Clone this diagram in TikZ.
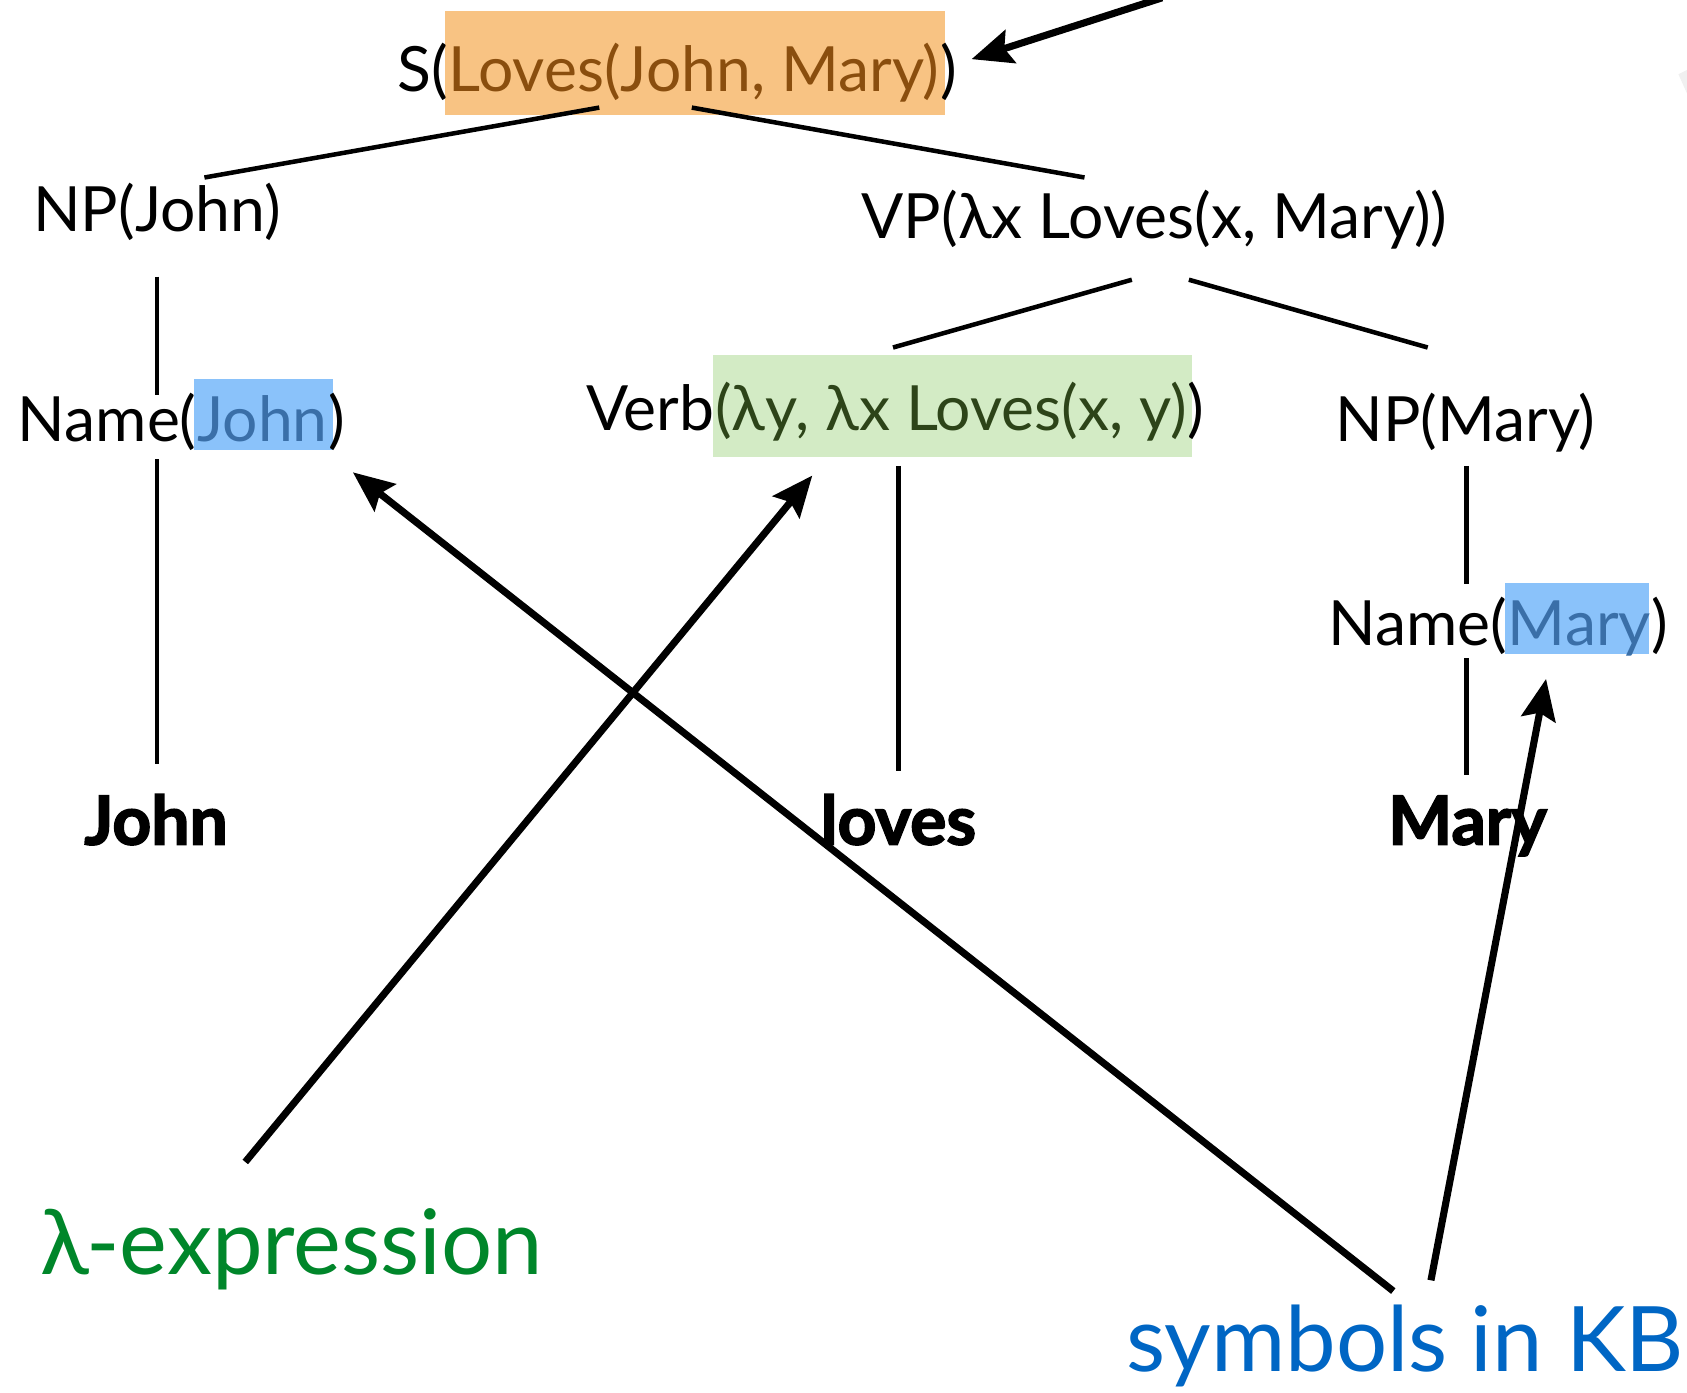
\documentclass[tikz,border=0pt]{standalone}
\usepackage{fontspec}
\setmainfont{Lato}
\newfontfamily\leaffont{Lato}[BoldFeatures={FakeBold=2.4}]
\usetikzlibrary{arrows.meta,calc,backgrounds}

\definecolor{hlorange}{HTML}{F8C383}
\definecolor{txtbrown}{HTML}{8A4E0E}
\definecolor{hlblue}{HTML}{8AC2FA}
\definecolor{txtblue}{HTML}{3A6FA8}
\definecolor{hlgreen}{HTML}{D3EBC5}
\definecolor{txtgreen}{HTML}{2D4419}
\definecolor{lamgreen}{HTML}{00862A}
\definecolor{kbblue}{HTML}{0066C4}

\tikzset{
  word/.style={inner sep=0pt, anchor=base, font=\fontsize{29}{34}\selectfont},
  leaf/.style={inner sep=0pt, anchor=base, font=\leaffont\fontsize{31.5}{36}\selectfont\bfseries},
  note/.style={inner sep=0pt, anchor=base, font=\fontsize{42}{48}\selectfont},
  branch/.style={line width=2.1pt},
  pointer/.style={line width=3.3pt, -{Stealth[length=19pt,width=16pt,inset=3pt]}}
}

\begin{document}
\begin{tikzpicture}[x=0.5pt,y=-0.5pt]
\useasboundingbox (0,0) rectangle (1568,1294);

% S(Loves(John, Mary))
\node[word, text=txtbrown] (s2) at (645,85) {Loves(John, Mary)};
\node[word, anchor=base east] (s1) at (s2.base west) {S(};
\node[word, anchor=base west] (s3) at (s2.base east) {)};

% second row
\node[word] (npj) at (146,215) {NP(John)};
\node[word] (vp) at (1073,222) {VP(λx Loves(x, Mary))};

% Name(John)
\node[word, text=txtblue] (nj2) at (244,410) {John};
\node[word, anchor=base east] (nj1) at (nj2.base west) {Name(};
\node[word, anchor=base west] (nj3) at (nj2.base east) {)};

% Verb(...)
\node[word, text=txtgreen] (v2) at (884,400) {(λy, λx Loves(x, y)};
\node[word, anchor=base east] (v1) at (v2.base west) {Verb};
\node[word, anchor=base west] (v3) at (v2.base east) {)};

\node[word] (npm) at (1362,410) {NP(Mary)};

% Name(Mary)
\node[word, text=txtblue] (nm2) at (1468,600) {Mary};
\node[word, anchor=base east] (nm1) at (nm2.base west) {Name(};
\node[word, anchor=base west] (nm3) at (nm2.base east) {)};

% leaves
\node[leaf] (wj) at (145,785) {John};
\node[leaf] (wl) at (835,785) {loves};
\node[leaf] (wm) at (1364,785) {Mary};

% annotations
\node[note, text=lamgreen] (lam) at (271,1185) {λ-expression};
\node[note, text=kbblue] (kb) at (1306,1275) {symbols in KB};

% highlight boxes
\begin{scope}[on background layer]
  \fill[hlorange] ($(s2.base west)+(-3,-75)$) rectangle ($(s2.base east)+(5,22)$);
  \fill[hlblue] ($(nj2.base west)+(-3,-58)$) rectangle ($(nj2.base east)+(5,8)$);
  \fill[hlgreen] ($(v2.base west)+(-2,-70)$) rectangle ($(v2.base east)+(4,25)$);
  \fill[hlblue] ($(nm2.base west)+(-2,-58)$) rectangle ($(nm2.base east)+(-2,8)$);
\end{scope}

% branch end points
\coordinate (s-l) at (557,100);
\coordinate (s-r) at (643,100);
\coordinate (npj-t) at (190,165);
\coordinate (vp-t) at (1008,165);
\coordinate (vp-l) at (1052,260);
\coordinate (vp-r) at (1105,260);
\coordinate (v-t) at (830,323);
\coordinate (npm-t) at (1327,323);
\coordinate (npj-b) at (146,257);
\coordinate (nj-t) at (146,367);
\coordinate (nj-b) at (146,427);
\coordinate (wj-t) at (146,710);
\coordinate (v-b) at (835,433);
\coordinate (wl-t) at (835,717);
\coordinate (npm-b) at (1363,433);
\coordinate (nm-t) at (1363,543);
\coordinate (nm-b) at (1363,612);
\coordinate (wm-t) at (1363,720);

\draw[branch] (s-l) -- (npj-t);
\draw[branch] (s-r) -- (vp-t);
\draw[branch] (vp-l) -- (v-t);
\draw[branch] (vp-r) -- (npm-t);
\draw[branch] (npj-b) -- (nj-t);
\draw[branch] (nj-b) -- (wj-t);
\draw[branch] (v-b) -- (wl-t);
\draw[branch] (npm-b) -- (nm-t);
\draw[branch] (nm-b) -- (wm-t);

% pointer arrows
\coordinate (top-src) at (1080,-2);
\coordinate (s-tip) at (903,55);
\coordinate (lam-src) at (228,1080);
\coordinate (v-tip) at (755,442);
\coordinate (kb-src1) at (1295,1200);
\coordinate (nj-tip) at (328,439);
\coordinate (kb-src2) at (1330,1190);
\coordinate (nm-tip) at (1437,631);

\draw[pointer] (top-src) -- (s-tip);
\draw[pointer] (lam-src) -- (v-tip);
\draw[pointer] (kb-src1) -- (nj-tip);
\draw[pointer] (kb-src2) -- (nm-tip);

% faint mark at the right edge
\fill[gray!12] (1560,69) -- (1568,65) -- (1568,87) -- cycle;
\end{tikzpicture}
\end{document}
